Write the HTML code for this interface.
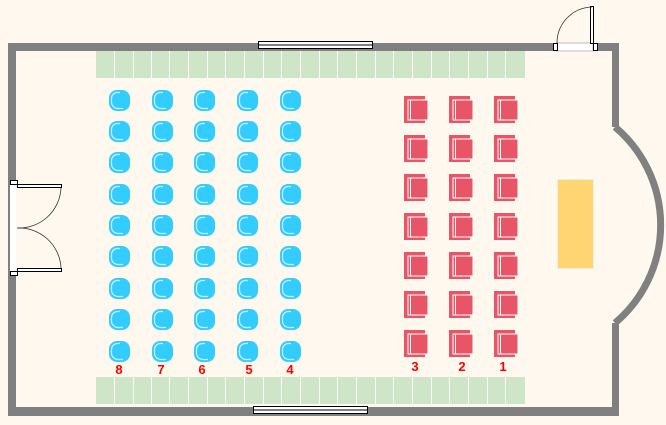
<!DOCTYPE html>
<html><head><style>
html,body{margin:0;padding:0;background:#fff8ee;}
svg{display:block}
text{font-family:"Liberation Sans",sans-serif;font-weight:bold;font-size:13px;fill:#ff0000;text-anchor:middle}
</style></head><body>
<svg width="666" height="425" xmlns="http://www.w3.org/2000/svg">
<rect width="666" height="425" fill="#fff8ee"/>
<g fill="#808080">
<rect x="8" y="43" width="611" height="8"/>
<rect x="8" y="407" width="611" height="9"/>
<rect x="8" y="43" width="8" height="373"/>
<rect x="612" y="43" width="7" height="84"/>
<rect x="612" y="323" width="7" height="93"/>
</g>
<path d="M615,127 A128,128 0 0 1 615,323" fill="none" stroke="#808080" stroke-width="7"/>
<rect x="96" y="51" width="429" height="27" fill="#cee5c8"/>
<rect x="96" y="377" width="429" height="27" fill="#cee5c8"/>
<g stroke="#fff" stroke-width="1">
<path d="M114.5,51v27M133.5,51v27M151.5,51v27M169.5,51v27M188.5,51v27M207.5,51v27M225.5,51v27M244.5,51v27M263.5,51v27M281.5,51v27M300.5,51v27M319.5,51v27M337.5,51v27M356.5,51v27M375.5,51v27M393.5,51v27M412.5,51v27M431.5,51v27M449.5,51v27M468.5,51v27M487.5,51v27M505.5,51v27"/>
<path d="M114.5,377v27M133.5,377v27M151.5,377v27M169.5,377v27M188.5,377v27M207.5,377v27M225.5,377v27M244.5,377v27M263.5,377v27M281.5,377v27M300.5,377v27M319.5,377v27M337.5,377v27M356.5,377v27M375.5,377v27M393.5,377v27M412.5,377v27M431.5,377v27M449.5,377v27M468.5,377v27M487.5,377v27M505.5,377v27"/>
</g>
<g fill="#fff" stroke="#000" stroke-width="1">
<rect x="258.5" y="41.5" width="114" height="7"/>
<rect x="253.5" y="406.5" width="114" height="7"/>
</g>
<path d="M258,45h115M253,410h115" stroke="#000" stroke-width="1"/>
<rect x="557" y="43" width="36" height="8" fill="#fff" stroke="#bbb"/>
<rect x="553.5" y="43.5" width="4" height="7" fill="#fff" stroke="#000"/>
<rect x="593.5" y="43.5" width="4" height="7" fill="#fff" stroke="#000"/>
<rect x="590.5" y="6.5" width="3" height="37" fill="#fff" stroke="#000"/>
<path d="M557,43 A36,36 0 0 1 592,7" fill="none" stroke="#333" stroke-width="0.8"/>
<rect x="10" y="182" width="6" height="92" fill="#fff"/>
<rect x="10.5" y="180.5" width="7" height="4" fill="#fff" stroke="#000"/>
<rect x="10.5" y="271.5" width="7" height="4" fill="#fff" stroke="#000"/>
<rect x="17.5" y="184.5" width="44" height="3" fill="#fff" stroke="#000"/>
<rect x="17.5" y="268.5" width="44" height="3" fill="#fff" stroke="#000"/>
<path d="M61,188 A42,42 0 0 1 17,228 A42,42 0 0 1 61,268" fill="none" stroke="#333" stroke-width="0.8"/>
<rect x="557.5" y="179.5" width="36" height="89" fill="#ffd473" stroke="#f0eee0"/>
<defs>
<g id="b">
<rect x="0" y="0" width="21" height="21" rx="8" fill="#33ccff"/>
<path d="M11,2.5 H8 A6,6 0 0 0 2.5,8.5 V12 A6.5,6.5 0 0 0 9,18.5 H14" fill="none" stroke="#c8f2ff" stroke-width="1.2"/>
</g>
<g id="r">
<rect x="0" y="0" width="21" height="27" fill="#e85566"/>
<rect x="4" y="4" width="20" height="20" fill="#e85566" stroke="#fff" stroke-width="1"/>
<path d="M6.5,4v20" stroke="#fff" stroke-width="1"/>
</g>
</defs>
<g>
<use href="#b" x="109" y="90"/><use href="#b" x="152" y="90"/><use href="#b" x="194" y="90"/><use href="#b" x="237" y="90"/><use href="#b" x="280" y="90"/>
<use href="#b" x="109" y="121"/><use href="#b" x="152" y="121"/><use href="#b" x="194" y="121"/><use href="#b" x="237" y="121"/><use href="#b" x="280" y="121"/>
<use href="#b" x="109" y="152"/><use href="#b" x="152" y="152"/><use href="#b" x="194" y="152"/><use href="#b" x="237" y="152"/><use href="#b" x="280" y="152"/>
<use href="#b" x="109" y="184"/><use href="#b" x="152" y="184"/><use href="#b" x="194" y="184"/><use href="#b" x="237" y="184"/><use href="#b" x="280" y="184"/>
<use href="#b" x="109" y="215"/><use href="#b" x="152" y="215"/><use href="#b" x="194" y="215"/><use href="#b" x="237" y="215"/><use href="#b" x="280" y="215"/>
<use href="#b" x="109" y="246"/><use href="#b" x="152" y="246"/><use href="#b" x="194" y="246"/><use href="#b" x="237" y="246"/><use href="#b" x="280" y="246"/>
<use href="#b" x="109" y="278"/><use href="#b" x="152" y="278"/><use href="#b" x="194" y="278"/><use href="#b" x="237" y="278"/><use href="#b" x="280" y="278"/>
<use href="#b" x="109" y="309"/><use href="#b" x="152" y="309"/><use href="#b" x="194" y="309"/><use href="#b" x="237" y="309"/><use href="#b" x="280" y="309"/>
<use href="#b" x="109" y="341"/><use href="#b" x="152" y="341"/><use href="#b" x="194" y="341"/><use href="#b" x="237" y="341"/><use href="#b" x="280" y="341"/>
</g>
<g>
<use href="#r" x="404" y="96"/><use href="#r" x="449" y="96"/><use href="#r" x="494" y="96"/>
<use href="#r" x="404" y="135"/><use href="#r" x="449" y="135"/><use href="#r" x="494" y="135"/>
<use href="#r" x="404" y="174"/><use href="#r" x="449" y="174"/><use href="#r" x="494" y="174"/>
<use href="#r" x="404" y="213"/><use href="#r" x="449" y="213"/><use href="#r" x="494" y="213"/>
<use href="#r" x="404" y="252"/><use href="#r" x="449" y="252"/><use href="#r" x="494" y="252"/>
<use href="#r" x="404" y="291"/><use href="#r" x="449" y="291"/><use href="#r" x="494" y="291"/>
<use href="#r" x="404" y="330"/><use href="#r" x="449" y="330"/><use href="#r" x="494" y="330"/>
</g>
<text x="119" y="374">8</text><text x="161" y="374">7</text><text x="202" y="374">6</text><text x="249" y="374">5</text><text x="290" y="374">4</text>
<text x="415" y="371">3</text><text x="462" y="371">2</text><text x="503" y="371">1</text>
</svg>
</body></html>
